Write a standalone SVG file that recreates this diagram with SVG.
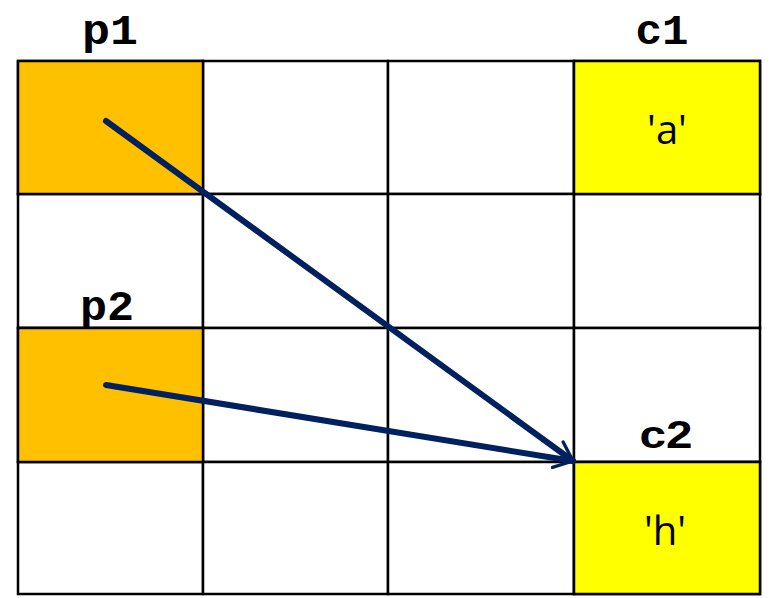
<svg xmlns="http://www.w3.org/2000/svg" width="769" height="598" viewBox="0 0 769 598">
<style>
.cell{fill:#ffffff;stroke:#000000;stroke-width:2.5}
.orange{fill:#ffc000}
.yellow{fill:#ffff00}
.lbl{font-family:"Liberation Mono","Courier New",monospace;font-weight:bold;font-size:42px;fill:#000;text-anchor:middle}
.lbl2{font-family:"Liberation Sans",Arial,sans-serif;font-weight:bold;font-size:38px;fill:#000;text-anchor:middle}
.val{font-family:"Open Sans","Liberation Sans",sans-serif;font-size:40px;fill:#000;text-anchor:middle}
.conn{fill:none;stroke:#002060;stroke-width:6;stroke-linecap:round;stroke-linejoin:round}
</style>
<defs>
<marker id="arr" viewBox="0 0 10 10" refX="9" refY="5" markerWidth="4" markerHeight="4" orient="auto" markerUnits="strokeWidth">
<path d="M1,1 L9,5 L1,9" fill="none" stroke="#002060" stroke-width="1.4" stroke-linecap="round" stroke-linejoin="round"/>
</marker>
</defs>
<rect width="769" height="598" fill="#ffffff"/>
<g id="grid">
<rect class="cell" x="18" y="61" width="185" height="133"/>
<rect class="cell" x="203" y="61" width="185" height="133"/>
<rect class="cell" x="388" y="61" width="186" height="133"/>
<rect class="cell" x="574" y="61" width="186" height="133"/>
<rect class="cell" x="18" y="194" width="185" height="134"/>
<rect class="cell" x="203" y="194" width="185" height="134"/>
<rect class="cell" x="388" y="194" width="186" height="134"/>
<rect class="cell" x="574" y="194" width="186" height="134"/>
<rect class="cell" x="18" y="328" width="185" height="134"/>
<rect class="cell" x="203" y="328" width="185" height="134"/>
<rect class="cell" x="388" y="328" width="186" height="134"/>
<rect class="cell" x="574" y="328" width="186" height="134"/>
<rect class="cell" x="18" y="462" width="185" height="132"/>
<rect class="cell" x="203" y="462" width="185" height="132"/>
<rect class="cell" x="388" y="462" width="186" height="132"/>
<rect class="cell" x="574" y="462" width="186" height="132"/>
</g>
<g id="p1">
<rect class="cell orange" x="18" y="61" width="185" height="133"/>
<text class="lbl" x="110" y="44" textLength="56" lengthAdjust="spacingAndGlyphs">p1</text>
</g>
<g id="p2">
<rect class="cell orange" x="18" y="328" width="185" height="134"/>
<text class="lbl" x="107" y="320" textLength="54" lengthAdjust="spacingAndGlyphs">p2</text>
</g>
<g id="c1">
<rect class="cell yellow" x="574" y="61" width="186" height="133"/>
<text class="lbl" x="662" y="44" textLength="53" lengthAdjust="spacingAndGlyphs">c1</text>
<text class="val" x="667" y="144">'a'</text>
</g>
<g id="c2">
<rect class="cell yellow" x="574" y="462" width="186" height="132"/>
<text class="lbl2" x="666" y="448" textLength="53" lengthAdjust="spacingAndGlyphs">c2</text>
<text class="val" x="665" y="545">'h'</text>
</g>
<g id="connectors">
<line class="conn" x1="106" y1="121" x2="573" y2="461" marker-end="url(#arr)"/>
<line class="conn" x1="106" y1="385" x2="573" y2="461" marker-end="url(#arr)"/>
</g>
</svg>
